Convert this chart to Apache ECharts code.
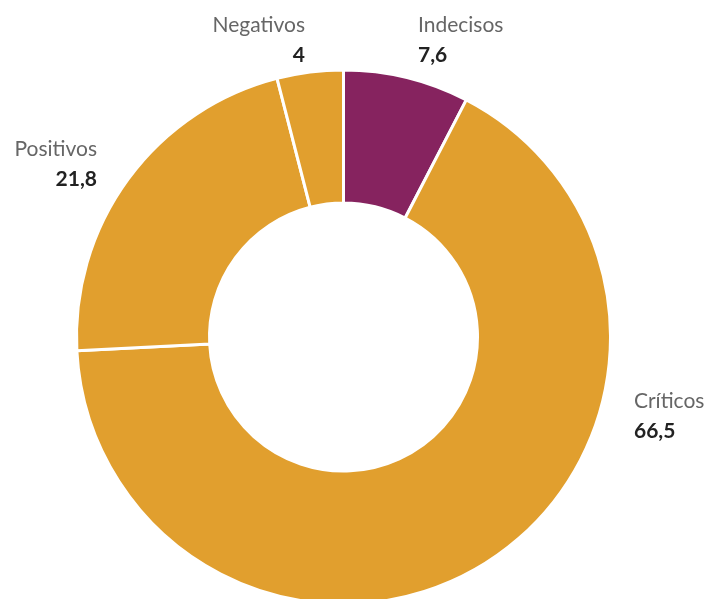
<!DOCTYPE html>
<html>
<head>
<meta charset="utf-8">
<script src="https://cdn.jsdelivr.net/npm/echarts@6/dist/echarts.min.js"></script>
<style>
html,body{margin:0;padding:0;background:#fff;}
#chart{width:708px;height:599px;}
</style>
</head>
<body>
<div id="chart"></div>
<script>
const categories = ['Indecisos', 'Críticos', 'Positivos', 'Negativos'];
const values = [7.6, 66.5, 21.8, 4];
const colors = ['#86235F', '#E19F2E', '#E19F2E', '#E19F2E'];

const labelAnchors = [
  {x: 418, y: 10, align: 'left'},
  {x: 634, y: 386, align: 'left'},
  {x: 97, y: 134, align: 'right'},
  {x: 305, y: 10, align: 'right'}
];

const chart = echarts.init(document.getElementById('chart'));
chart.setOption({
  backgroundColor: '#fff',
  animation: false,
  series: [{
    type: 'pie',
    center: [343.5, 337],
    radius: [134, 267],
    startAngle: 90,
    clockwise: true,
    data: categories.map((c, i) => ({
      name: c,
      value: values[i],
      itemStyle: {color: colors[i]}
    })),
    itemStyle: {borderColor: '#fff', borderWidth: 3},
    label: {
      show: true,
      position: 'outside',
      overflow: 'none',
      width: 200,
      fontFamily: 'Lato',
      formatter: p => '{n|' + p.name + '}\n{v|' + String(p.value).replace('.', ',') + '}',
      rich: {
        n: {fontFamily: 'Lato', fontSize: 21, color: '#666666', lineHeight: 30},
        v: {fontFamily: 'Lato', fontSize: 21, color: '#222222', fontWeight: 'bold', lineHeight: 30}
      }
    },
    labelLine: {show: false},
    labelLayout: function (params) {
      const a = labelAnchors[params.dataIndex];
      return {x: a.x, y: a.y, align: a.align, verticalAlign: 'top', hideOverlap: false};
    }
  }]
});
</script>
</body>
</html>
